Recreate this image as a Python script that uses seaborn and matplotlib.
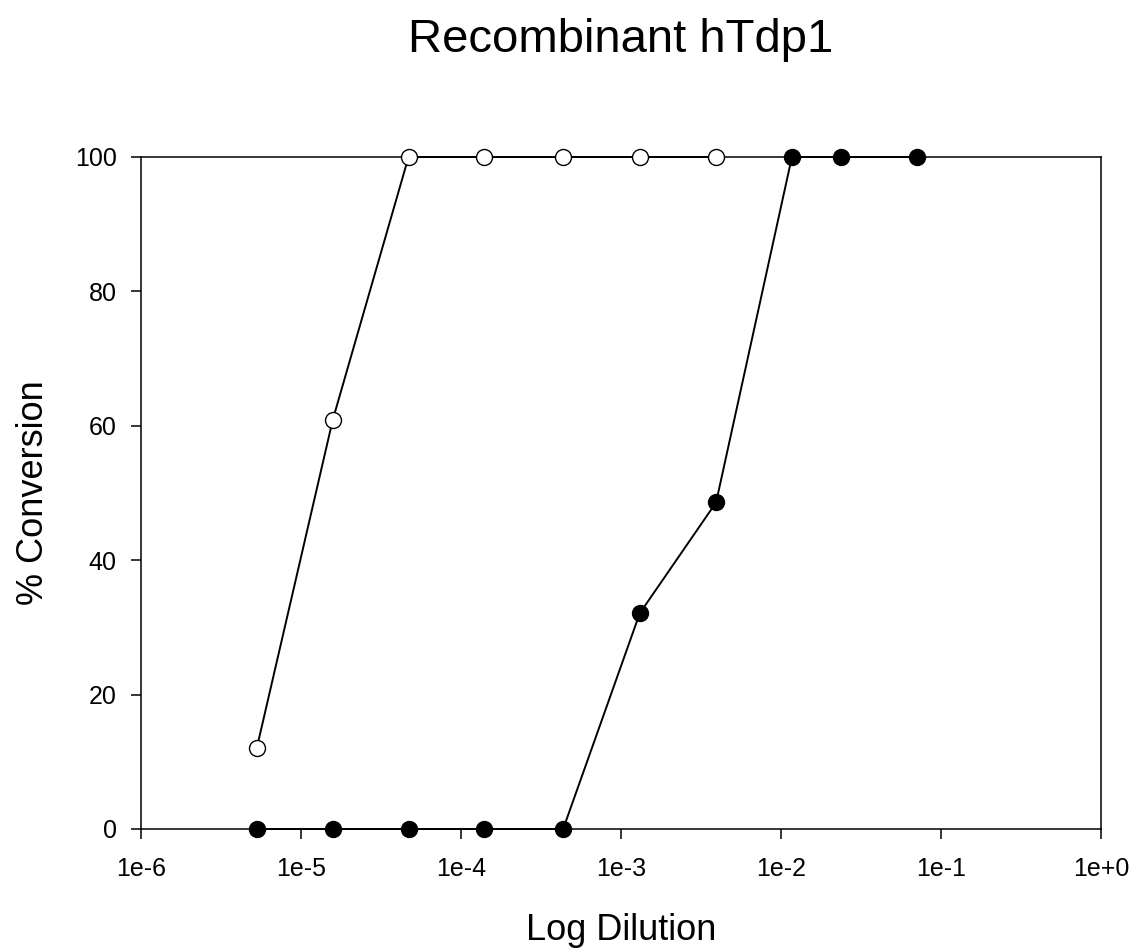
import numpy as np
import pandas as pd
import matplotlib
matplotlib.use("Agg")
import matplotlib.pyplot as plt
import seaborn as sns

# Data
open_dilution = [5.3e-6, 1.58e-5, 4.7e-5, 1.39e-4, 4.35e-4, 1.31e-3, 3.93e-3]
open_conversion = [12.1, 60.9, 100, 100, 100, 100, 100]
filled_dilution = [5.3e-6, 1.58e-5, 4.7e-5, 1.39e-4, 4.35e-4, 1.31e-3, 3.93e-3, 1.17e-2, 2.37e-2, 7.08e-2]
filled_conversion = [0, 0, 0, 0, 0, 32.1, 48.6, 100, 100, 100]
x_ticks = [1e-6, 1e-5, 1e-4, 1e-3, 1e-2, 1e-1, 1e0]
x_tick_labels = ["1e-6", "1e-5", "1e-4", "1e-3", "1e-2", "1e-1", "1e+0"]
y_ticks = [0, 20, 40, 60, 80, 100]

sns.set_theme(style="ticks")
plt.rcParams['font.family'] = ['Liberation Sans', 'DejaVu Sans']

W, H = 1135, 950
fig = plt.figure(figsize=(W / 100, H / 100), dpi=100)
left, right, top, bottom = 141, 1101, 157, 829
ax = fig.add_axes([left / W, 1 - bottom / H, (right - left) / W, (bottom - top) / H])

df_open = pd.DataFrame({"dilution": open_dilution, "conversion": open_conversion})
df_filled = pd.DataFrame({"dilution": filled_dilution, "conversion": filled_conversion})

sns.lineplot(data=df_filled, x="dilution", y="conversion", ax=ax, color="black",
             marker="o", markersize=11.5, markerfacecolor="black", markeredgecolor="black",
             markeredgewidth=1.0, linewidth=1.4, zorder=3, clip_on=False)
sns.lineplot(data=df_open, x="dilution", y="conversion", ax=ax, color="black",
             marker="o", markersize=11.5, markerfacecolor="white", markeredgecolor="black",
             markeredgewidth=1.0, linewidth=1.4, zorder=4, clip_on=False)

ax.set_xscale("log")
ax.set_xlim(1e-6, 1e0)
ax.set_ylim(0, 100)
ax.set_xticks(x_ticks)
ax.set_xticklabels(x_tick_labels)
ax.xaxis.set_minor_locator(matplotlib.ticker.NullLocator())
ax.set_yticks(y_ticks)
ax.tick_params(axis="both", direction="out", length=7.5, width=1.1, labelsize=18,
               colors="black", pad=10)
ax.tick_params(axis="x", pad=13)
ax.tick_params(top=False, right=False)
for s in ax.spines.values():
    s.set_visible(True)
    s.set_linewidth(1.1)
    s.set_color("black")

ax.set_xlabel("Log Dilution", fontsize=26, labelpad=23, color="black")
ax.set_ylabel("% Conversion", fontsize=26, labelpad=17, color="black")
fig.text((left + right) / 2 / W, 1 - 52 / H, "Recombinant hTdp1", ha="center", va="baseline",
         fontsize=34, color="black")

fig.savefig("out.png", dpi=100, facecolor="white")
